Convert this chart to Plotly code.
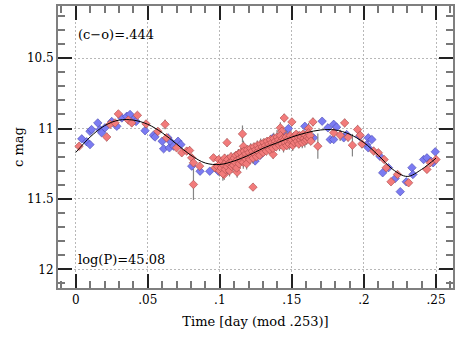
import plotly.graph_objects as go

# fitted curve (phase, mag)
fit_x = [0, 0.01, 0.02, 0.03, 0.04, 0.05, 0.06, 0.07, 0.08, 0.09, 0.10, 0.11, 0.12,
         0.13, 0.14, 0.15, 0.16, 0.17, 0.18, 0.19, 0.20, 0.21, 0.22, 0.23, 0.24, 0.25]
fit_y = [11.17, 11.06, 10.98, 10.94, 10.94, 10.97, 11.03, 11.11, 11.19, 11.245, 11.255, 11.23, 11.19,
         11.14, 11.10, 11.06, 11.03, 11.01, 11.01, 11.04, 11.10, 11.19, 11.29, 11.34, 11.29, 11.21]

# red series
red_x = [0.0023, 0.0215, 0.0238, 0.0273, 0.0296, 0.0365, 0.0389, 0.0428, 0.0488, 0.057,
         0.062, 0.063, 0.070, 0.0736, 0.077, 0.079, 0.0805, 0.0817, 0.0817, 0.086,
         0.0956, 0.0967, 0.103, 0.105, 0.123, 0.1447, 0.15, 0.142, 0.143, 0.158,
         0.1616, 0.1646, 0.168, 0.179, 0.1835, 0.1866, 0.189, 0.192, 0.1956, 0.1974,
         0.1986, 0.2067, 0.210, 0.214, 0.2155, 0.2188, 0.2233, 0.231, 0.2437, 0.246,
         0.250, 0.1157, 0.1164, 0.112, 0.137,
         0.0985, 0.0992, 0.0998, 0.1004, 0.1010, 0.1016, 0.1021, 0.1027, 0.1033, 0.1038,
         0.1044, 0.1050, 0.1055, 0.1061, 0.1067, 0.1072, 0.1078, 0.1083, 0.1089, 0.1095,
         0.1100, 0.1106, 0.1112, 0.1117, 0.1123, 0.1129, 0.1134, 0.1140, 0.1146, 0.1151,
         0.1157, 0.1163, 0.1168, 0.1174, 0.1180, 0.1186, 0.1191, 0.1197, 0.1203, 0.1209,
         0.1214, 0.1220, 0.1226, 0.1231, 0.1237, 0.1243, 0.1249, 0.1254, 0.1260, 0.1266,
         0.1271, 0.1277, 0.1283, 0.1288, 0.1294, 0.1300, 0.1306, 0.1311, 0.1317, 0.1323,
         0.1328, 0.1334, 0.1340, 0.1345, 0.1351, 0.1357, 0.1362, 0.1368, 0.1374, 0.1380,
         0.1385, 0.1391, 0.1397, 0.1402, 0.1408, 0.1414, 0.1420, 0.1425, 0.1431, 0.1437,
         0.1442, 0.1448, 0.1454, 0.1460, 0.1465, 0.1471, 0.1477, 0.1482, 0.1488, 0.1494,
         0.1500, 0.1506, 0.1512, 0.1518, 0.1524, 0.1530, 0.1536, 0.1542, 0.1548, 0.1554,
         0.1560, 0.1566, 0.1572, 0.1578, 0.1584, 0.1590, 0.1596, 0.1602, 0.1608, 0.1614,
         0.1620, 0.1626, 0.1632]
red_y = [11.126, 11.06, 10.97, 10.96, 10.896, 10.94, 10.96, 10.906, 10.967, 11.02,
         10.97, 11.066, 11.137, 11.172, 11.16, 11.156, 11.208, 11.243, 11.397, 11.267,
         11.208, 11.278, 11.326, 11.10, 11.416, 10.925, 10.953, 10.995, 11.02, 11.066,
         11.0, 10.953, 11.125, 11.03, 11.048, 10.96, 11.062, 11.118, 11.007, 11.048,
         11.109, 11.16, 11.172, 11.22, 11.278, 11.378, 11.326, 11.385, 11.29, 11.243,
         11.22, 11.038, 11.126, 11.31, 11.184,
         11.27, 11.22, 11.30, 11.25, 11.28, 11.23, 11.32, 11.26, 11.21, 11.29,
         11.24, 11.27, 11.22, 11.25, 11.30, 11.24, 11.20, 11.27, 11.23, 11.26,
         11.21, 11.24, 11.19, 11.28, 11.22, 11.18, 11.25, 11.21, 11.17, 11.23,
         11.20, 11.24, 11.16, 11.21, 11.18, 11.25, 11.15, 11.20, 11.17, 11.22,
         11.14, 11.19, 11.16, 11.21, 11.13, 11.18, 11.15, 11.20, 11.12, 11.16,
         11.14, 11.19, 11.11, 11.15, 11.13, 11.17, 11.10, 11.14, 11.12, 11.16,
         11.09, 11.13, 11.11, 11.15, 11.08, 11.12, 11.10, 11.14, 11.07, 11.11,
         11.09, 11.13, 11.06, 11.10, 11.08, 11.12, 11.05, 11.09, 11.11, 11.07,
         11.13, 11.08, 11.10, 11.06, 11.12, 11.09, 11.07, 11.11, 11.05, 11.09,
         11.08, 11.12, 11.06, 11.10, 11.07, 11.04, 11.09, 11.06, 11.11, 11.05,
         11.08, 11.06, 11.10, 11.04, 11.07, 11.09, 11.05, 11.08, 11.06, 11.03,
         11.07, 11.05, 11.09]
red_err = [0.025, 0.03, 0.02, 0.02, 0.02, 0.02, 0.02, 0.02, 0.025, 0.025,
           0.035, 0.025, 0.025, 0.025, 0.025, 0.03, 0.025, 0.03, 0.11, 0.03,
           0.025, 0.03, 0.04, 0.03, 0.025, 0.03, 0.025, 0.04, 0.03, 0.04,
           0.04, 0.03, 0.09, 0.03, 0.04, 0.03, 0.03, 0.08, 0.03, 0.03,
           0.03, 0.03, 0.025, 0.025, 0.025, 0.02, 0.02, 0.025, 0.025, 0.03,
           0.025, 0.06, 0.04, 0.04, 0.03,
           0.03, 0.02, 0.04, 0.03, 0.025, 0.03, 0.05, 0.02, 0.03, 0.04,
           0.03, 0.025, 0.035, 0.03, 0.04, 0.02, 0.03, 0.045, 0.025, 0.03,
           0.04, 0.03, 0.025, 0.05, 0.03, 0.035, 0.02, 0.04, 0.03, 0.025,
           0.03, 0.045, 0.03, 0.02, 0.035, 0.04, 0.03, 0.025, 0.05, 0.03,
           0.035, 0.03, 0.02, 0.04, 0.03, 0.025, 0.045, 0.03, 0.035, 0.04,
           0.03, 0.02, 0.04, 0.03, 0.05, 0.025, 0.03, 0.035, 0.04, 0.03,
           0.025, 0.04, 0.03, 0.02, 0.035, 0.045, 0.03, 0.025, 0.04, 0.03,
           0.035, 0.03, 0.05, 0.025, 0.03, 0.04, 0.03, 0.02, 0.035, 0.03,
           0.04, 0.025, 0.03, 0.045, 0.03, 0.035, 0.02, 0.04, 0.03, 0.025,
           0.03, 0.04, 0.035, 0.03, 0.05, 0.025, 0.03, 0.04, 0.03, 0.02,
           0.035, 0.03, 0.04, 0.025, 0.03, 0.045, 0.03, 0.035, 0.02, 0.03,
           0.04, 0.03, 0.025]

# blue series
blue_x = [0.0042, 0.0076, 0.0099, 0.0099, 0.011, 0.0153, 0.0169, 0.018, 0.0203, 0.025,
          0.0285, 0.032, 0.0354, 0.0377, 0.040, 0.0419, 0.0481, 0.0539, 0.055, 0.060,
          0.061, 0.064, 0.065, 0.0655, 0.068, 0.071, 0.073, 0.0805, 0.0863, 0.093,
          0.099, 0.102, 0.104, 0.1245, 0.128, 0.137, 0.1476, 0.1454, 0.149, 0.159,
          0.165, 0.171, 0.175, 0.179, 0.181, 0.1766, 0.179, 0.188, 0.186, 0.197,
          0.202, 0.203, 0.2055, 0.203, 0.211, 0.217, 0.213, 0.2217, 0.2252, 0.2294,
          0.2333, 0.234, 0.2414, 0.2437, 0.2465, 0.2495, 0.248]
blue_y = [11.073, 11.094, 11.114, 11.02, 11.007, 10.96, 11.007, 11.03, 10.995, 10.95,
          10.984, 10.925, 10.913, 10.90, 10.937, 10.95, 11.015, 11.048, 11.06, 11.09,
          11.144, 11.066, 11.137, 11.09, 11.125, 11.09, 11.114, 11.267, 11.303, 11.303,
          11.303, 11.29, 11.31, 11.23, 11.19, 11.066, 11.0, 11.038, 11.109, 10.984,
          11.066, 10.948, 10.995, 10.97, 10.99, 11.078, 11.078, 11.043, 11.066, 11.055,
          11.114, 11.066, 11.078, 11.137, 11.196, 11.278, 11.314, 11.354, 11.448, 11.378,
          11.278, 11.326, 11.22, 11.208, 11.232, 11.165, 11.243]
blue_err = [0.02, 0.025, 0.02, 0.02, 0.02, 0.025, 0.02, 0.02, 0.025, 0.02,
            0.02, 0.02, 0.02, 0.02, 0.02, 0.02, 0.025, 0.02, 0.02, 0.02,
            0.02, 0.02, 0.02, 0.02, 0.02, 0.02, 0.02, 0.025, 0.025, 0.02,
            0.025, 0.02, 0.02, 0.02, 0.02, 0.02, 0.02, 0.02, 0.02, 0.02,
            0.02, 0.02, 0.025, 0.02, 0.02, 0.02, 0.02, 0.02, 0.02, 0.02,
            0.02, 0.02, 0.02, 0.02, 0.02, 0.02, 0.02, 0.02, 0.025, 0.02,
            0.02, 0.02, 0.02, 0.02, 0.02, 0.02, 0.02]

x_ticks = [0, 0.05, 0.1, 0.15, 0.2, 0.25]
x_labels = ['0', '.05', '.1', '.15', '.2', '.25']
y_ticks = [10.5, 11, 11.5, 12]
y_labels = ['10.5', '11', '11.5', '12']

FONT = 'DejaVu Serif'

fig = go.Figure()

def add_series(xs, ys, errs, fill, edge):
    fig.add_trace(go.Scatter(
        x=xs, y=ys, mode='markers',
        error_y=dict(type='data', array=errs, color='#858585', thickness=1.2, width=0),
        marker=dict(symbol='diamond', size=6.5, color=fill, line=dict(width=0.6, color=edge)),
        showlegend=False))

add_series(blue_x, blue_y, blue_err, '#7b7bf2', '#4a4ab0')
add_series(red_x, red_y, red_err, '#f27b7b', '#a84848')

fig.add_trace(go.Scatter(x=fit_x, y=fit_y, mode='lines', line=dict(color='black', width=1, shape='spline'),
                         showlegend=False))

axis_common = dict(
    showline=True, linecolor='#7f7f7f', linewidth=2, mirror='ticks',
    ticks='inside', ticklen=14, tickwidth=1.5, tickcolor='#222',
    showgrid=True, gridcolor='#b8b8b8', gridwidth=1, griddash='2px,2px',
    zeroline=False, automargin=False,
    tickfont=dict(family=FONT, size=12, color='black'),
)

fig.update_xaxes(
    range=[-0.0123, 0.2618], tickvals=x_ticks, ticktext=x_labels,
    minor=dict(dtick=0.01, tick0=0, ticks='inside', ticklen=7, tickcolor='#777', tickwidth=1.5, showgrid=False),
    title=dict(text='Time [day (mod .253)]', font=dict(family=FONT, size=13, color='black'), standoff=10),
    **axis_common)
fig.update_yaxes(
    range=[12.132, 10.13], tickvals=y_ticks, ticktext=y_labels,
    minor=dict(dtick=0.1, tick0=10, ticks='inside', ticklen=7, tickcolor='#777', tickwidth=1.5, showgrid=False),
    title=dict(text='c mag', font=dict(family=FONT, size=13, color='black'), standoff=0),
    **axis_common)

fig.add_annotation(x=0, y=10.33, xref='x', yref='y', text='(c\u2212o)=.444', showarrow=False,
                   xanchor='left', yanchor='middle', font=dict(family=FONT, size=13, color='black'))
fig.add_annotation(x=0, y=11.93, xref='x', yref='y', text='log(P)=45.08', showarrow=False,
                   xanchor='left', yanchor='middle', font=dict(family=FONT, size=13, color='black'))

fig.update_layout(
    width=462, height=346,
    margin=dict(l=58, r=9, t=6, b=58),
    paper_bgcolor='white', plot_bgcolor='white',
)

# drop the default page margin so the figure sits at the window's corner
fig.write_html("out.html", config={'displayModeBar': False},
               post_script="document.body.style.margin='0';")
